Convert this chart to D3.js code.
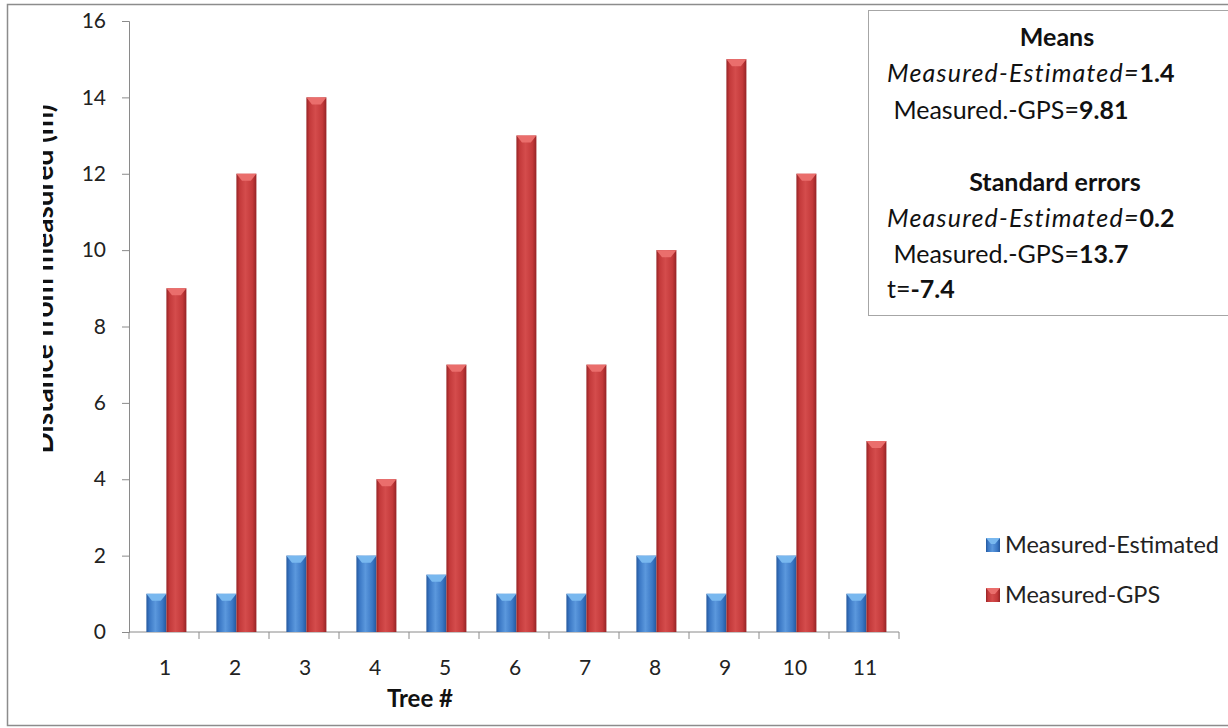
<!DOCTYPE html>
<html>
<head>
<meta charset="utf-8">
<script src="https://cdn.jsdelivr.net/npm/d3@7"></script>
<style>
  html, body { margin: 0; padding: 0; background: #fff; }
  svg { display: block; font-family: Lato, "Open Sans", sans-serif; }
</style>
</head>
<body>
<svg id="chart" width="1228" height="728"></svg>
<script>
// Distances (m) between the measured tree position and the two alternatives
const trees = ["1", "2", "3", "4", "5", "6", "7", "8", "9", "10", "11"];
const seriesNames = ["Measured-Estimated", "Measured-GPS"];
const measuredEstimated = [1, 1, 2, 2, 1.5, 1, 1, 2, 1, 2, 1];
const measuredGPS = [9, 12, 14, 4, 7, 13, 7, 10, 15, 12, 5];
const yTicks = [0, 2, 4, 6, 8, 10, 12, 14, 16];

// Summary statistics shown in the text panel
const meanEstimated = "1.4";
const meanGPS = "9.81";
const seEstimated = "0.2";
const seGPS = "13.7";
const tValue = "-7.4";

const svg = d3.select("#chart");
const W = 1228, H = 728;
const plot = { left: 129, right: 899, top: 21, bottom: 632 };

const palette = {
  "Measured-Estimated": { base: "#3a77c4", dark: "#24589e", light: "#5b98dd", bevel: "#79b8ef" },
  "Measured-GPS": { base: "#c3393a", dark: "#962325", light: "#d44c4c", bevel: "#ea6e6c" }
};

// Gradients give the bars their rounded, bevelled look
const defs = svg.append("defs");
seriesNames.forEach((name, i) => {
  const c = palette[name];
  const g = defs.append("linearGradient").attr("id", "grad" + i)
    .attr("x1", "0%").attr("x2", "100%").attr("y1", "0%").attr("y2", "0%");
  g.append("stop").attr("offset", "0%").attr("stop-color", c.dark);
  g.append("stop").attr("offset", "15%").attr("stop-color", c.base);
  g.append("stop").attr("offset", "45%").attr("stop-color", c.light);
  g.append("stop").attr("offset", "80%").attr("stop-color", c.base);
  g.append("stop").attr("offset", "100%").attr("stop-color", c.dark);
});
defs.append("clipPath").attr("id", "titleClip")
  .append("rect").attr("x", 43).attr("y", 0).attr("width", 200).attr("height", H);

// Chart frame
svg.append("rect").attr("x", 7.5).attr("y", 4.5).attr("width", W).attr("height", 721)
  .attr("fill", "#fff").attr("stroke", "#8c8c8c").attr("stroke-width", 1.5);

const x = d3.scaleBand().domain(trees).range([plot.left, plot.right]).padding(0);
const xInner = d3.scaleBand().domain(seriesNames).range([0, x.bandwidth()])
  .paddingInner(0).paddingOuter(0.75).align(0.58);
const y = d3.scaleLinear().domain([0, 16]).range([plot.bottom, plot.top]);

// Y axis
const yAxis = svg.append("g").attr("transform", `translate(${plot.left},0)`)
  .call(d3.axisLeft(y).tickValues(yTicks).tickSize(7).tickPadding(16));
yAxis.select(".domain").attr("stroke", "#8a8a8a");
yAxis.selectAll(".tick line").attr("stroke", "#8a8a8a");
yAxis.selectAll(".tick text").attr("font-size", 21).attr("fill", "#222")
  .attr("font-family", "Lato, sans-serif");

// X axis: baseline with tick marks on category boundaries
const xAxis = svg.append("g");
xAxis.append("line").attr("x1", plot.left).attr("x2", plot.right)
  .attr("y1", y(0)).attr("y2", y(0)).attr("stroke", "#8a8a8a");
const boundaries = trees.map(t => x(t)).concat([x(trees[trees.length - 1]) + x.bandwidth()]);
xAxis.selectAll("line.tick").data(boundaries).join("line").attr("class", "tick")
  .attr("x1", d => d).attr("x2", d => d).attr("y1", y(0)).attr("y2", y(0) + 7)
  .attr("stroke", "#8a8a8a");
xAxis.selectAll("text").data(trees).join("text")
  .attr("x", d => x(d) + x.bandwidth() / 2 + 1).attr("y", y(0) + 43)
  .attr("text-anchor", "middle").attr("font-size", 21).attr("fill", "#222")
  .text(d => d);

// Axis titles
svg.append("text").attr("x", 420).attr("y", 707).attr("text-anchor", "middle")
  .attr("font-size", 24).attr("font-weight", "bold").attr("fill", "#111").text("Tree #");
svg.append("g").attr("clip-path", "url(#titleClip)")
  .append("text").attr("transform", "translate(53,279) rotate(-90)")
  .attr("text-anchor", "middle").attr("font-size", 28).attr("font-weight", "bold")
  .attr("fill", "#111").text("Distance from measured (m)");

// Bars
const rows = trees.map((t, i) => ({ tree: t, values: [measuredEstimated[i], measuredGPS[i]] }));
const groups = svg.append("g").selectAll("g").data(rows).join("g")
  .attr("transform", d => `translate(${x(d.tree)},0)`);
const bars = groups.selectAll("g").data(d => d.values.map((v, i) => ({ v, i, name: seriesNames[i] })))
  .join("g");
bars.append("rect")
  .attr("x", d => xInner(d.name)).attr("width", xInner.bandwidth())
  .attr("y", d => y(d.v)).attr("height", d => y(0) - y(d.v))
  .attr("fill", d => "url(#grad" + d.i + ")");
// Bevel highlight at the top of each bar
bars.append("path")
  .attr("d", d => {
    const x0 = xInner(d.name), w = xInner.bandwidth(), top = y(d.v);
    return `M${x0},${top} L${x0 + w},${top} L${x0 + w * 0.72},${top + 7} L${x0 + w * 0.28},${top + 7} Z`;
  })
  .attr("fill", d => palette[d.name].bevel);

// Legend
const legend = svg.append("g");
seriesNames.forEach((name, i) => {
  const ly = 545 + i * 50;
  legend.append("rect").attr("x", 986).attr("y", ly - 7).attr("width", 14).attr("height", 14)
    .attr("fill", "url(#grad" + i + ")");
  legend.append("path")
    .attr("d", `M986,${ly - 7} L1000,${ly - 7} L995,${ly - 1} L991,${ly - 1} Z`)
    .attr("fill", palette[name].bevel);
  legend.append("text").attr("x", 1005).attr("y", ly + 8).attr("font-size", 23.5)
    .attr("fill", "#222").text(name);
});

// Statistics panel
const panel = svg.append("g");
panel.append("rect").attr("x", 868.5).attr("y", 10.5).attr("width", 380).attr("height", 305)
  .attr("fill", "#fff").attr("stroke", "#a6a6a6");
const fs = 25;
function line(yPos, xPos, parts, anchor) {
  const t = panel.append("text").attr("x", xPos).attr("y", yPos).attr("font-size", fs)
    .attr("fill", "#111").attr("text-anchor", anchor || "start").attr("xml:space", "preserve");
  parts.forEach(p => t.append("tspan").attr("font-weight", p.b ? "bold" : "normal")
    .attr("font-style", p.i ? "italic" : "normal")
    .attr("letter-spacing", p.i ? 1.2 : 0).text(p.t));
}
line(46, 1057, [{ t: "Means", b: true }], "middle");
line(82, 887, [{ t: "Measured-Estimated=", i: true }, { t: meanEstimated, b: true }]);
line(119, 887, [{ t: " Measured.-GPS=" }, { t: meanGPS, b: true }]);
line(191, 1055, [{ t: "Standard errors", b: true }], "middle");
line(227, 887, [{ t: "Measured-Estimated=", i: true }, { t: seEstimated, b: true }]);
line(263, 887, [{ t: " Measured.-GPS=" }, { t: seGPS, b: true }]);
line(298, 887, [{ t: "t=" }, { t: tValue, b: true }]);
</script>
</body>
</html>
